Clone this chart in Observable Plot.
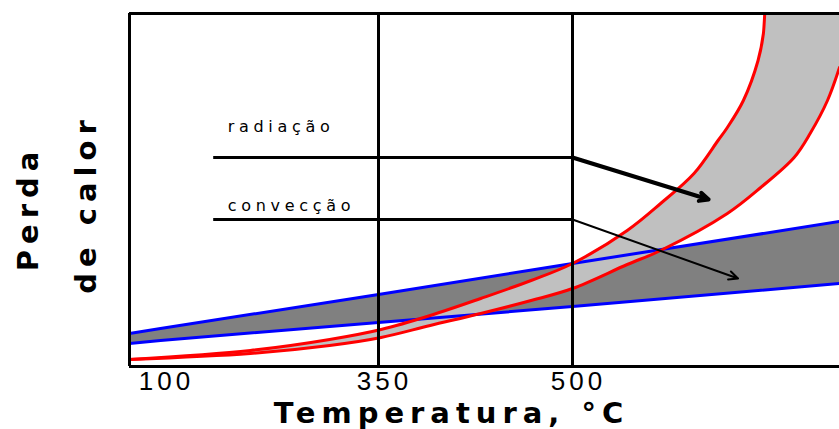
<!DOCTYPE html>
<html>
<head>
<meta charset="utf-8">
<script src="https://cdn.jsdelivr.net/npm/d3@7"></script>
<script src="https://cdn.jsdelivr.net/npm/@observablehq/plot@0.6"></script>
<style>
  body { margin: 0; background: #fff; }
  #chart svg { display: block; }
</style>
</head>
<body>
<div id="chart"></div>
<script>
// Temperature axis (°C): breakpoints of the schematic scale and labelled ticks
const tempDomain = [75, 100, 350, 500, 700];
const tickValues = [100, 350, 500];
const tickLabels = ["100", "350", "500"];
const lossMax = 353; // arbitrary units of heat loss at the top of the frame

// Radiation losses: band between two red curves
const radTempHigh = [75, 203, 294, 352, 390, 429, 468, 500, 541, 566, 591, 609, 616, 628, 639, 643, 644];
const radLossHigh = [7, 16, 27, 37, 51, 68, 86, 103, 136, 163, 193, 226, 239, 266, 306, 333, 353];
const radTempLow  = [75, 203, 294, 352, 390, 429, 468, 500, 541, 566, 616, 641, 666, 678, 691, 700];
const radLossLow  = [7, 13, 21, 29, 41, 53, 66, 78, 102, 116, 153, 179, 209, 233, 266, 299];

// Convection losses: band between two blue lines
const convTemp     = [75, 100, 350, 500, 700];
const convLossHigh = [33, 38, 72, 103, 145];
const convLossLow  = [23, 26, 44, 60, 83];

// Annotations
const labelNames = ["radiação", "convecção"];
const labelTemp  = [177, 177];
const labelLoss  = [240, 161];
const leaderStart = 161;
const leaderEnd   = 500;
const leaderLoss  = [209, 147];
const arrowTemp   = [602, 624];
const arrowLoss   = [167, 88];
const arrowWidth  = [4, 2];

// Axis titles
const yTitle = ["Perda", "de calor"];
const xTitle = "Temperatura, °C";

const zip = (xs, ys) => xs.map((x, i) => ({x, y: ys[i]}));
const radHigh = zip(radTempHigh, radLossHigh);
const radLow = zip(radTempLow, radLossLow);
const convHigh = zip(convTemp, convLossHigh);
const convLow = zip(convTemp, convLossLow);

// Closed outlines for the shaded bands
const radBand = [...radHigh, {x: tempDomain[tempDomain.length - 1], y: lossMax}, ...radLow.slice().reverse()];
const convBand = [...convHigh, ...convLow.slice().reverse()];

const labels = labelNames.map((text, i) => ({text, x: labelTemp[i], y: labelLoss[i]}));
const arrows = leaderLoss.map((y, i) => ({x1: leaderEnd, y1: y, x2: arrowTemp[i], y2: arrowLoss[i], w: arrowWidth[i]}));
const ticks = tickValues.map((x, i) => ({x, text: tickLabels[i]}));

const titleFont = {fontFamily: "'DejaVu Sans', sans-serif", fontWeight: "bold", fontSize: 29, lineAnchor: "middle", textAnchor: "middle"};

const chart = Plot.plot({
  width: 839,
  height: 429,
  marginLeft: 129,
  marginRight: 0,
  marginTop: 13,
  marginBottom: 63,
  style: {
    fontFamily: "'Liberation Sans', sans-serif",
    color: "#000",
    background: "#fff"
  },
  x: {type: "linear", domain: tempDomain, range: [129, 160, 378, 572, 839], axis: null},
  y: {domain: [0, lossMax], axis: null},
  marks: [
    Plot.line(convBand, {x: "x", y: "y", fill: "#808080", stroke: "none"}),
    Plot.line(radBand, {x: "x", y: "y", fill: "#c0c0c0", stroke: "none"}),
    Plot.line(convHigh, {x: "x", y: "y", stroke: "#0000ff", strokeWidth: 3}),
    Plot.line(convLow, {x: "x", y: "y", stroke: "#0000ff", strokeWidth: 3}),
    Plot.line(radHigh, {x: "x", y: "y", stroke: "#ff0000", strokeWidth: 3, curve: "catmull-rom"}),
    Plot.line(radLow, {x: "x", y: "y", stroke: "#ff0000", strokeWidth: 3, curve: "catmull-rom"}),
    Plot.ruleX([350, 500], {stroke: "#000", strokeWidth: 3}),
    Plot.ruleX([tempDomain[0]], {stroke: "#000", strokeWidth: 3}),
    Plot.ruleY([0, lossMax], {stroke: "#000", strokeWidth: 3}),
    Plot.ruleY(leaderLoss, {y: (d) => d, x1: leaderStart, x2: leaderEnd, stroke: "#000", strokeWidth: 3}),
    Plot.arrow(arrows, {x1: "x1", y1: "y1", x2: "x2", y2: "y2", strokeWidth: "w", stroke: "#000", headLength: 15, headAngle: 50}),
    // tick labels of the temperature axis
    Plot.text(ticks, {x: "x", text: "text", frameAnchor: "bottom", lineAnchor: "middle", textAnchor: "middle", dx: 6, dy: 15, fontSize: 26}),
    Plot.text(labels, {x: "x", y: "y", text: "text", textAnchor: "start", lineAnchor: "middle", fontFamily: "'DejaVu Sans', sans-serif", fontSize: 16}),
    Plot.text([yTitle[0]], {...titleFont, frameAnchor: "left", dx: -101, dy: 18.5, rotate: -90}),
    Plot.text([yTitle[1]], {...titleFont, frameAnchor: "left", dx: -43, dy: 14, rotate: -90}),
    Plot.text([xTitle], {...titleFont, frameAnchor: "bottom", dx: -33, dy: 47})
  ]
});

// Wide letter spacing of the lettering
const spacing = new Map([
  ...tickLabels.map((t) => [t, "4px"]),
  ...labelNames.map((t) => [t, "4.7px"]),
  ...yTitle.map((t) => [t, "6px"]),
  [xTitle, "6px"]
]);
d3.select(chart).selectAll("text").each(function () {
  const s = spacing.get(this.textContent);
  if (s) this.setAttribute("letter-spacing", s);
});

document.getElementById("chart").append(chart);
</script>
</body>
</html>
